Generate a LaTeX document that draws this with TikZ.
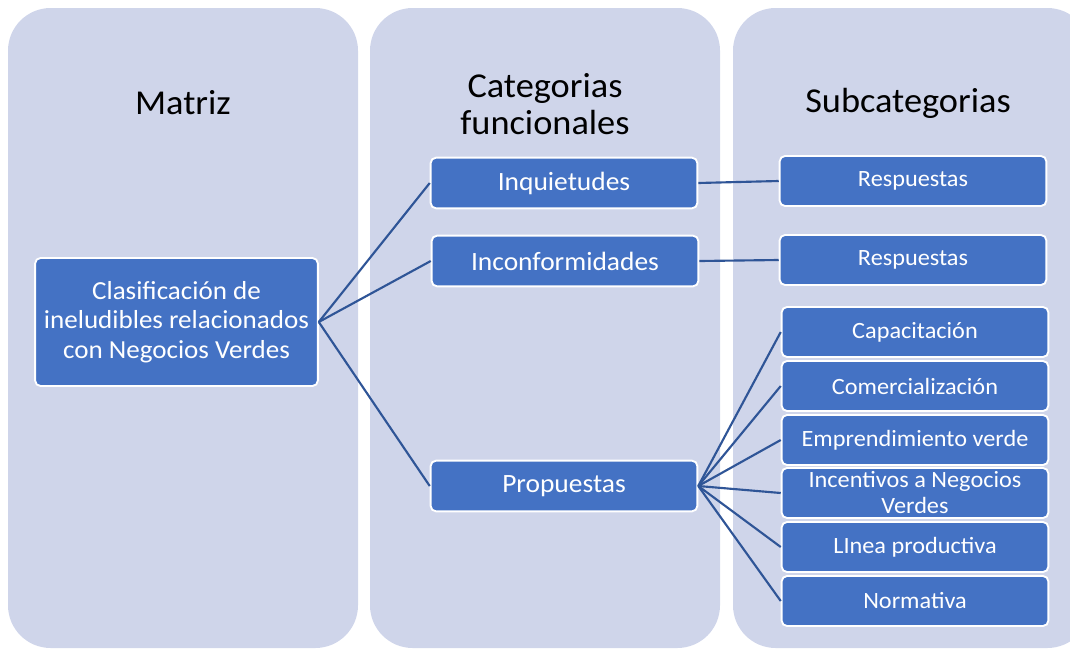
\documentclass[tikz,border=0pt]{standalone}
\usepackage{fontspec}
\setmainfont{Carlito}[FakeStretch=1.04]
\definecolor{panelc}{HTML}{CFD5EA}
\definecolor{boxblue}{HTML}{4472C4}
\definecolor{linkblue}{HTML}{2F5597}
\begin{document}
\begin{tikzpicture}[x=0.75pt,y=-0.75pt,
  panel/.style={fill=panelc, rounded corners=32pt},
  title/.style={align=center, inner sep=0pt, font=\fontsize{26.2}{28}\selectfont},
  bx/.style={draw=white, line width=1.4pt, fill=boxblue, rounded corners=4pt, text=white, align=center, inner sep=0pt},
  mainbox/.style={bx, minimum width=212pt, minimum height=96pt, font=\fontsize{19.5}{22}\selectfont},
  catbox/.style={bx, minimum width=200pt, minimum height=38pt, font=\fontsize{19.8}{22}\selectfont},
  subbox/.style={bx, minimum width=200pt, minimum height=37.5pt, font=\fontsize{17.5}{19.5}\selectfont},
  link/.style={draw=linkblue, line width=1.6pt}
]
\useasboundingbox (0,0) rectangle (1070,650);
\clip (0,0) rectangle (1070,650);
\fill[panel] (8,8) rectangle (358,648);
\fill[panel] (370,8) rectangle (720,648);
\fill[panel] (733,8) rectangle (1090,648);

\node[title] (t1) at (183,103) {Matriz};
\node[title] (t2) at (545,104) {Categorias\\funcionales};
\node[title] (t3) at (908,103) {Subcategorias};

\node[mainbox] (m) at (176.5,322) {Clasificación de\\ineludibles relacionados\\con Negocios Verdes};

\node[catbox] (inq) at (564,183) {Inquietudes};
\node[catbox] (inc) at (565,261) {Inconformidades};
\node[catbox] (pro) at (564,486) {Propuestas};

\node[subbox] (r1) at (913,181) {Respuestas};
\node[subbox] (r2) at (913,260) {Respuestas};
\node[subbox] (s1) at (915,332) {Capacitación};
\node[subbox] (s2) at (915,386) {Comercialización};
\node[subbox] (s3) at (915,440) {Emprendimiento verde};
\node[subbox] (s4) at (915,493) {Incentivos a Negocios\\Verdes};
\node[subbox] (s5) at (915,547) {LInea productiva};
\node[subbox] (s6) at (915,601) {Normativa};

\draw[link] (m.east) -- (inq.west);
\draw[link] (m.east) -- (inc.west);
\draw[link] (m.east) -- (pro.west);
\draw[link] (inq.east) -- (r1.west);
\draw[link] (inc.east) -- (r2.west);
\foreach \s in {s1,s2,s3,s4,s5,s6} {\draw[link] (pro.east) -- (\s.west);}
\end{tikzpicture}
\end{document}
